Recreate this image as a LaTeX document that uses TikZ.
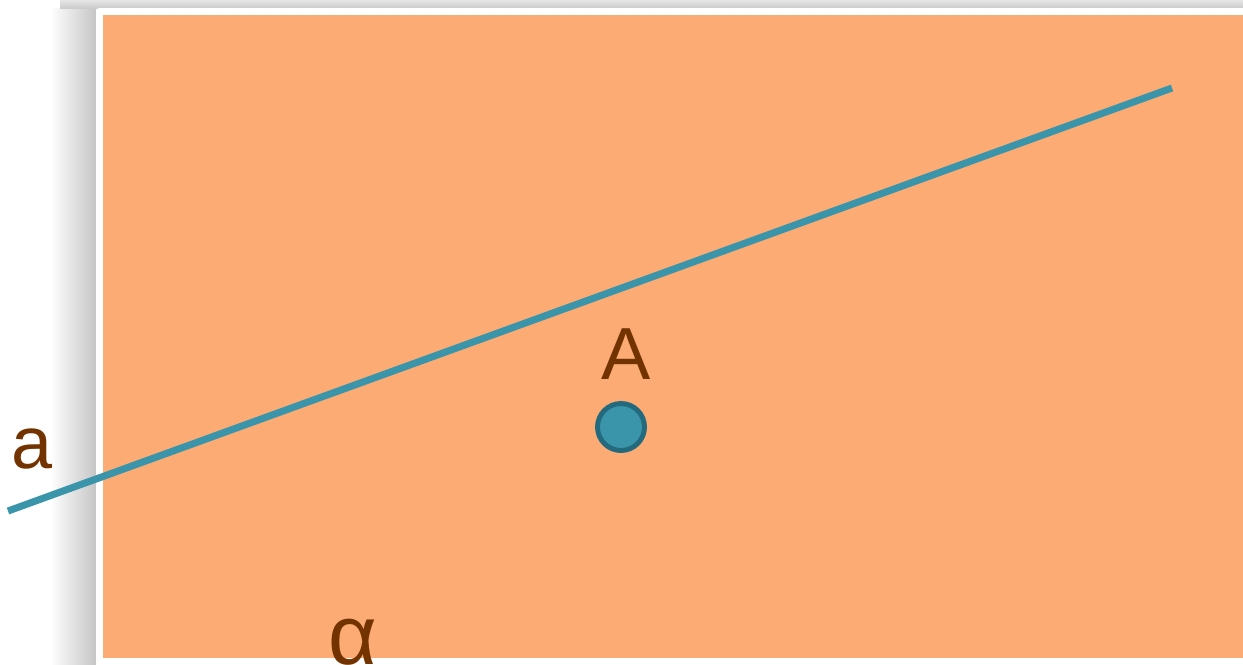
\documentclass[tikz,border=0pt]{standalone}
\usepackage{fontspec}
\setmainfont{Liberation Sans}
\definecolor{planeorange}{HTML}{FBAB73}
\definecolor{lineteal}{HTML}{3A95AA}
\definecolor{dotedge}{HTML}{236A7E}
\definecolor{labelbrown}{HTML}{733300}
\tikzset{
  lbl/.style={text=labelbrown, inner sep=0pt, font=\fontsize{42}{50}\selectfont},
}
\begin{document}
\begin{tikzpicture}[x=0.02cm, y=-0.02cm]
  \useasboundingbox (0,0) rectangle (1243,664);

  % shadow of the card
  \shade[left color=white, right color=gray!45] (50,8) rectangle (96,664);
  \shade[top color=gray!20, bottom color=gray!40] (60,0) rectangle (1243,8);

  % card and plane alpha
  \fill[white, rounded corners=2pt] (96,8) rectangle (1260,680);
  \fill[planeorange] (103,15) rectangle (1243,658);

  % line a
  \coordinate (a1) at (8,511);
  \coordinate (a2) at (1172,88);
  \draw[lineteal, line width=4pt] (a1) -- (a2);

  % point A
  \node[circle, fill=lineteal, draw=dotedge, line width=2.8pt,
        minimum size=0.94cm, inner sep=0pt] (ptA) at (621,427) {};

  % labels
  \node[lbl] (labA) at (626,354) {A};
  \node[lbl] (laba) at (32,449) {a};
  \node[lbl, anchor=base, font=\fontsize{48}{56}\selectfont] (labalpha) at (353,664) {α};
\end{tikzpicture}
\end{document}
